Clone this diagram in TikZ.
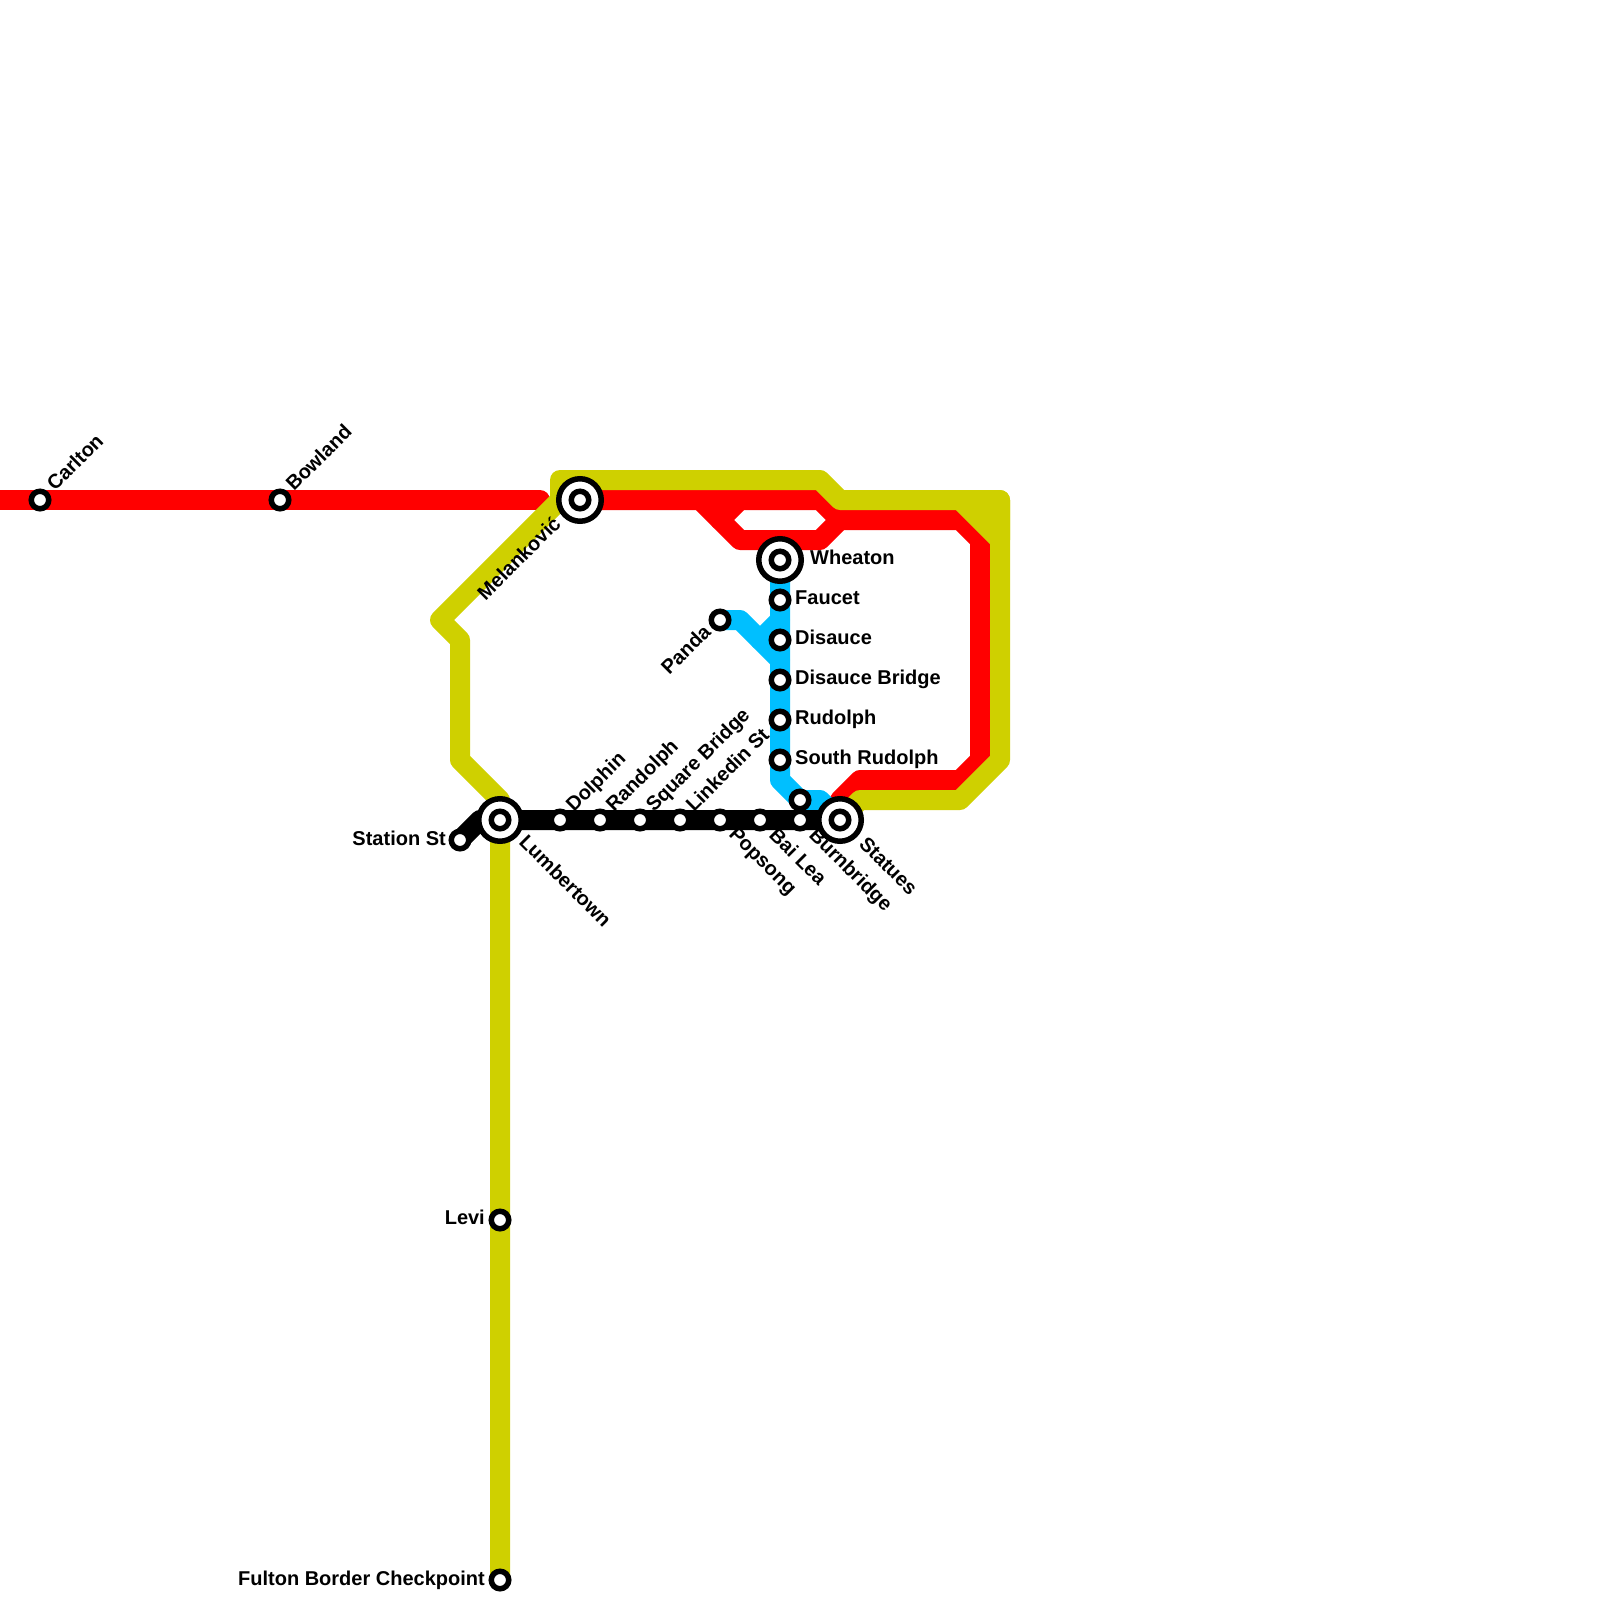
\documentclass[tikz,border=0pt]{standalone}
\usepackage{fontspec}
\setmainfont{Liberation Sans}
\definecolor{lred}{HTML}{FF0000}
\definecolor{lyellow}{HTML}{CFD000}
\definecolor{lblue}{HTML}{00BFFF}
\tikzset{
  metro/.style={line width=20pt,line join=round,line cap=round},
  stn/.style={circle,draw=black,fill=white,line width=5.5pt,minimum size=17.5pt,inner sep=0pt},
  hubring/.style={circle,draw=black,fill=white,line width=5.5pt,minimum size=42.5pt,inner sep=0pt},
  lab/.style={font=\bfseries\fontsize{20}{22}\selectfont,inner sep=0pt,text=black},
  labr/.style={lab,anchor=base west},
  labl/.style={lab,anchor=base east},
  labup/.style={lab,anchor=base west,rotate=45},
  labdn/.style={lab,anchor=base west,rotate=-45},
  labdl/.style={lab,anchor=base east,rotate=45}
}
\begin{document}
\begin{tikzpicture}[x=1pt,y=-1pt]
\useasboundingbox (0,0) rectangle (1600,1600);
% station positions
\foreach \n/\x/\y in {carlton/40/500,bowland/280/500,melankovic/580/500,wheaton/780/560,faucet/780/600,disauce/780/640,disbridge/780/680,rudolph/780/720,srudolph/780/760,panda/720/620,unnamed/800/800,station/460/840,lumbertown/500/820,dolphin/560/820,randolph/600/820,square/640/820,linkedin/680/820,popsong/720/820,bailea/760/820,burnbridge/800/820,statues/840/820,levi/500/1220,fulton/500/1580}
  \coordinate (p\n) at (\x,\y);
% red line
\coordinate (redstart) at (-20,500);
\coordinate (redend) at (540,500);
\draw[metro,lred] (redstart) -- (redend);
\draw[metro,lred] (pmelankovic) -- (820,500) -- (840,520) -- (960,520) -- (980,540) -- (980,760) -- (960,780) -- (860,780) -- (840,800) -- (pstatues);
\draw[metro,lred] (700,500) -- (740,540) -- (820,540) -- (840,520);
\draw[metro,lred] (720,520) -- (740,500);
% yellow line
\draw[metro,lyellow] (pmelankovic) -- (560,500) -- (560,480) -- (820,480) -- (840,500) -- (1000,500) -- (1000,760) -- (960,800) -- (860,800) -- (pstatues);
\draw[metro,lyellow] (560,500) -- (440,620) -- (460,640) -- (460,760) -- (500,800) -- (plumbertown) -- (pfulton);
\draw[metro,lyellow,fill=lyellow] (960,500) -- (1000,500) -- (1000,540) -- cycle;
% blue line
\draw[metro,lblue] (pwheaton) -- (780,780) -- (punnamed) -- (820,800) -- (pstatues);
\draw[metro,lblue] (ppanda) -- (740,620) -- (780,660);
\draw[metro,lblue] (760,640) -- (780,620);
% black line
\draw[metro,black] (pstation) -- (480,820) -- (pstatues);
% stations
\foreach \n in {carlton,bowland,faucet,disauce,disbridge,rudolph,srudolph,panda,unnamed,station,dolphin,randolph,square,linkedin,popsong,bailea,burnbridge,levi,fulton}
  \node[stn] (\n) at (p\n) {};
\foreach \n in {melankovic,wheaton,lumbertown,statues}{
  \node[hubring] (\n) at (p\n) {};
  \node[stn] (\n inner) at (p\n) {};
}
% labels
\node[labup] (lcarlton) at (55,492) {Carlton};
\node[labup] (lbowland) at (294,492) {Bowland};
\node[labdl] (lmelankovic) at (562,525) {Melankovi\'c};
\node[labr] (lwheaton) at (810,564) {Wheaton};
\node[labr] (lfaucet) at (795,604) {Faucet};
\node[labr] (ldisauce) at (795,644) {Disauce};
\node[labr] (ldisbridge) at (795,684) {Disauce Bridge};
\node[labr] (lrudolph) at (795,724) {Rudolph};
\node[labr] (lsrudolph) at (795,764) {South Rudolph};
\node[labdl] (lpanda) at (712,633) {Panda};
\node[labl] (lstation) at (446,845) {Station St};
\node[labl] (llevi) at (485,1224) {Levi};
\node[labl] (lfulton) at (485,1585) {Fulton Border Checkpoint};
\node[labdn] (llumbertown) at (518,843) {Lumbertown};
\node[labup] (ldolphin) at (574,813) {Dolphin};
\node[labup] (lrandolph) at (614,813) {Randolph};
\node[labup] (lsquare) at (654,813) {Square Bridge};
\node[labup] (llinkedin) at (694,813) {Linkedin St};
\node[labdn] (lpopsong) at (728,835) {Popsong};
\node[labdn] (lbailea) at (768,836) {Bai Lea};
\node[labdn] (lburnbridge) at (808,836) {Burnbridge};
\node[labdn] (lstatues) at (858,845) {Statues};
\end{tikzpicture}
\end{document}
